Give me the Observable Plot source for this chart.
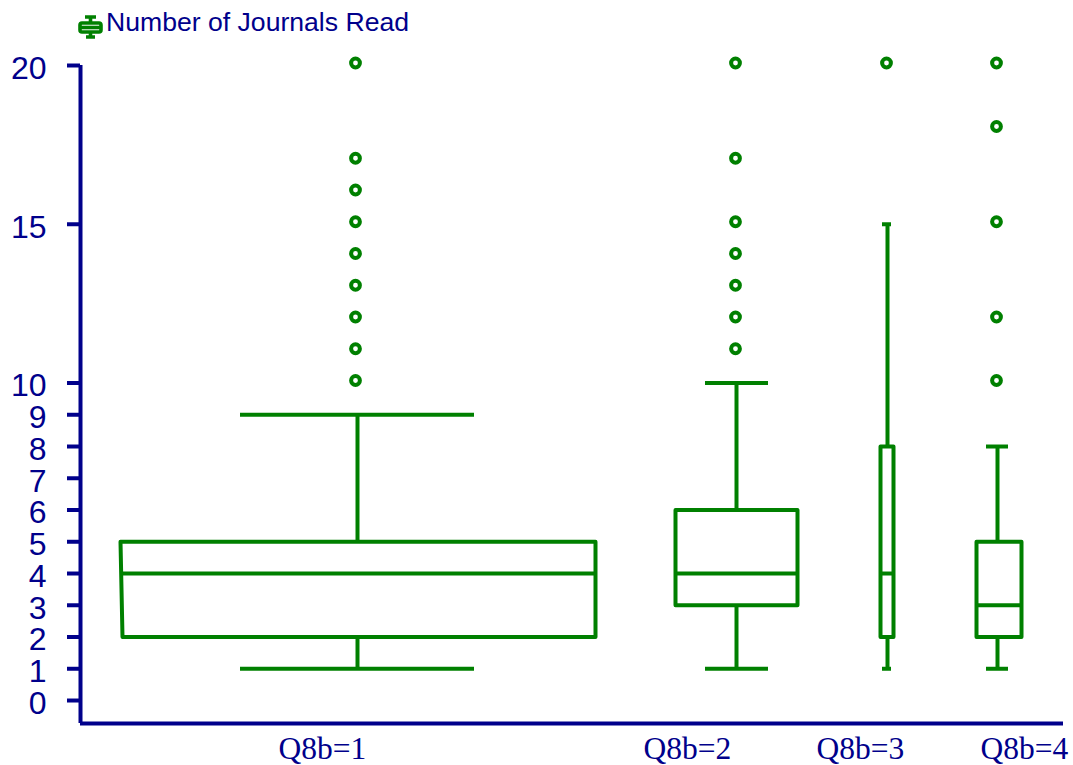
<!DOCTYPE html>
<html>
<head>
<meta charset="utf-8">
<script src="https://cdn.jsdelivr.net/npm/d3@7"></script>
<script src="https://cdn.jsdelivr.net/npm/@observablehq/plot@0.6"></script>
<style>
  html, body { margin: 0; padding: 0; background: #fff; }
  #legend { height: 44px; position: relative; font: 26.6px "Liberation Sans", Arial, sans-serif; color: #00008b; }
  #legend svg { position: absolute; left: 78px; top: 15px; }
  #legend span { position: absolute; left: 106px; top: 7px; line-height: 30px; white-space: nowrap; }
  #chart svg { display: block; overflow: visible; }
</style>
</head>
<body>
<div id="legend">
  <svg width="26" height="24" viewBox="0 0 26 24">
    <g fill="none" stroke="#008000" stroke-width="3.6">
      <path d="M7 2H18M12.5 2V8M12.5 17V22M8 22H17"/>
      <rect x="2" y="8" width="21" height="9" rx="2"/>
      <path d="M2 12.5H23"/>
    </g>
  </svg>
  <span>Number of Journals Read</span>
</div>
<div id="chart"></div>
<script>
const groups      = ["Q8b=1", "Q8b=2", "Q8b=3", "Q8b=4"];
const labelStarts = [278, 643, 816, 980];
const centers     = [357, 736, 887, 997];
const boxLeftTop  = [120, 675, 880, 976];
const boxLeftBot  = [122, 675, 880, 976];
const boxRight    = [595, 797, 893, 1021];
const capLeft     = [240, 705, 882, 986];
const capRight    = [474, 768, 891, 1008];
const whiskerLow  = [1, 1, 1, 1];
const q1          = [2, 3, 2, 2];
const median      = [4, 4, 4, 3];
const q3          = [5, 6, 8, 5];
const whiskerHigh = [9, 10, 15, 8];
const outlierX    = [355, 735, 886, 996];
const outliers    = [
  [20, 17, 16, 15, 14, 13, 12, 11, 10],
  [20, 17, 15, 14, 13, 12, 11],
  [20],
  [20, 18, 15, 12, 10]
];
const yTicks = [0, 1, 2, 3, 4, 5, 6, 7, 8, 9, 10, 15, 20];
const green = "#008000", navy = "#00008b";

const idx = groups.map((_, i) => i);
const outline = idx.flatMap(i => [
  {g: i, x: boxLeftTop[i], y: q3[i]},
  {g: i, x: boxRight[i], y: q3[i]},
  {g: i, x: boxRight[i], y: q1[i]},
  {g: i, x: boxLeftBot[i], y: q1[i]},
  {g: i, x: boxLeftTop[i], y: q3[i]}
]);
const dots = idx.flatMap(i => outliers[i].map(v => ({x: outlierX[i], y: v})));
const yFloor = -0.724;
const sw = 4;

const plot = Plot.plot({
  width: 1073,
  height: 721,
  marginLeft: 80,
  marginRight: 10,
  marginTop: 21,
  marginBottom: 42,
  style: {background: "#fff", overflow: "visible"},
  x: {domain: [80, 1063]},
  y: {domain: [yFloor, 20]},
  marks: [
    Plot.axisY({ticks: yTicks, text: null, tickSize: 13, stroke: navy, strokeWidth: 4, label: null}),
    Plot.axisY({ticks: yTicks, tickFormat: d => d, tickSize: 0, tickPadding: 34, dy: 3, label: null,
      fill: navy, fontSize: 32, fontFamily: "Liberation Sans"}),
    Plot.axisX({ticks: labelStarts, tickFormat: (d, i) => groups[i], tickSize: 0, tickPadding: 13,
      textAnchor: "start", label: null, fill: navy, fontSize: 31.5, fontFamily: "Liberation Serif"}),
    Plot.ruleX([80], {y1: yFloor, y2: 20, stroke: navy, strokeWidth: 4}),
    Plot.ruleY([yFloor], {x1: 80, x2: 1063, stroke: navy, strokeWidth: 4}),
    Plot.ruleX(idx, {x: i => centers[i], y1: i => whiskerLow[i], y2: i => q1[i], stroke: green, strokeWidth: sw}),
    Plot.ruleX(idx, {x: i => centers[i], y1: i => q3[i], y2: i => whiskerHigh[i], stroke: green, strokeWidth: sw}),
    Plot.ruleY(idx, {y: i => whiskerLow[i], x1: i => capLeft[i], x2: i => capRight[i], stroke: green, strokeWidth: sw}),
    Plot.ruleY(idx, {y: i => whiskerHigh[i], x1: i => capLeft[i], x2: i => capRight[i], stroke: green, strokeWidth: sw}),
    Plot.ruleY(idx, {y: i => median[i], x1: i => boxLeftTop[i], x2: i => boxRight[i], stroke: green, strokeWidth: sw}),
    Plot.line(outline, {x: "x", y: "y", z: "g", stroke: green, strokeWidth: sw}),
    Plot.dot(dots, {x: "x", y: "y", dy: -2.5, r: 4.4, stroke: green, strokeWidth: 4, fill: "none"})
  ]
});
document.getElementById("chart").append(plot);
</script>
</body>
</html>
